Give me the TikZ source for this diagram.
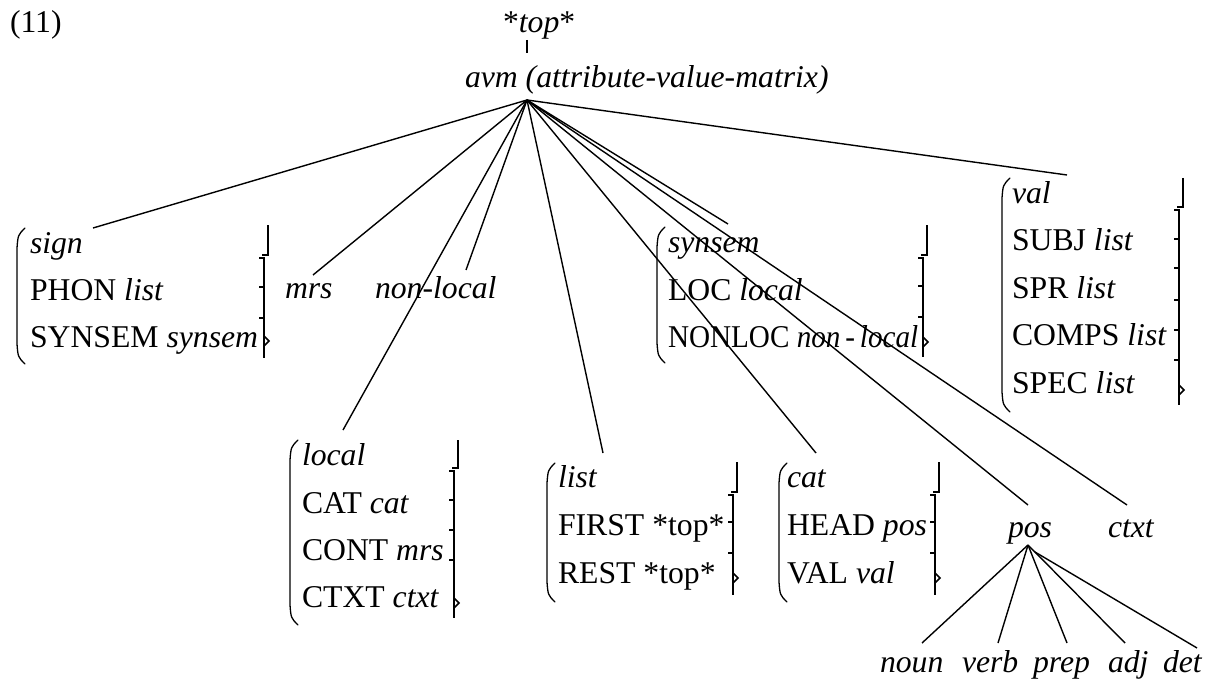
\documentclass[tikz,border=0pt]{standalone}
\usepackage{fontspec}
\setmainfont{Liberation Serif}
\tikzset{
  txt/.style={anchor=base west, inner sep=0pt, outer sep=0pt, font=\fontsize{31.7}{38}\selectfont},
  edge/.style={line width=1.4pt},
  brk/.style={line width=1.5pt},
  pbrk/.style={line width=1.3pt, line cap=round}
}
\newcommand{\myparen}[3]{%
  \draw[pbrk] (#1+8,#2) .. controls (#1+1,#2+7) .. (#1,#2+20) -- (#1,#3-20) .. controls (#1+1,#3-7) .. (#1+8,#3);}
\newcommand{\mybrak}[6]{%
  \draw[brk] (#1,#2) -- (#1,#3) -- (#1-6,#3);
  \draw[brk] (#1-9,#3+3) -- (#1-4,#3+3) -- (#1-4,#4);
  \foreach \t in {#5} {\draw[brk] (#1-4,\t) -- (#1-9,\t);}
  \draw[brk] (#1-4,#6-5) -- (#1+1,#6) -- (#1-4,#6+5);}
\begin{document}
\begin{tikzpicture}[x=1pt,y=-1pt]
\useasboundingbox (0,0) rectangle (1214,679);
% header
\node[txt] (n11) at (10,33) {(11)};
\node[txt] (top) at (503,33) {*\textit{top}*};
\node[txt] (avm) at (465,88) {\textit{avm (attribute-value-matrix)}};
\coordinate (topfoot) at (527,40);
\coordinate (avmhead) at (527,53);
\draw[edge] (topfoot) -- (avmhead);
\coordinate (apex) at (527,100);
% sign box
\node[txt] (sign1) at (30,253) {\textit{sign}};
\node[txt] (sign2) at (30,300) {PHON \textit{list}};
\node[txt] (sign3) at (30,347) {SYNSEM \textit{synsem}};
\myparen{17}{228}{364}
\mybrak{268}{225}{255}{358}{287,318}{341}
% mrs, non-local
\node[txt] (mrs) at (285,298) {\textit{mrs}};
\node[txt] (nonlocal) at (375,298) {\textit{non-local}};
% synsem box
\node[txt] (syn1) at (668,252) {\textit{synsem}};
\node[txt] (syn2) at (668,300) {LOC \textit{local}};
\node[txt] (syn3) at (668,347) {\scalebox{0.92}[1]{NONLOC \textit{non}\,-\,\textit{local}}};
\myparen{657}{227}{363}
\mybrak{927}{225}{255}{357}{286,317}{342}
% val box
\node[txt] (val1) at (1012,203) {\textit{val}};
\node[txt] (val2) at (1012,250) {SUBJ \textit{list}};
\node[txt] (val3) at (1012,298) {SPR \textit{list}};
\node[txt] (val4) at (1012,345) {COMPS \textit{list}};
\node[txt] (val5) at (1012,393) {SPEC \textit{list}};
\myparen{1002}{178}{412}
\mybrak{1183}{178}{207}{405}{239,268,300,330,360}{390}
% local box
\node[txt] (loc1) at (302,465) {\textit{local}};
\node[txt] (loc2) at (302,513) {CAT \textit{cat}};
\node[txt] (loc3) at (302,560) {CONT \textit{mrs}};
\node[txt] (loc4) at (302,607) {CTXT \textit{ctxt}};
\myparen{290}{440}{625}
\mybrak{458}{440}{468}{618}{500,530,560}{603}
% list box
\node[txt] (list1) at (558,487) {\textit{list}};
\node[txt] (list2) at (558,535) {FIRST *top*};
\node[txt] (list3) at (558,583) {REST *top*};
\myparen{547}{463}{602}
\mybrak{737}{462}{492}{595}{522,553}{578}
% cat box
\node[txt] (cat1) at (787,487) {\textit{cat}};
\node[txt] (cat2) at (787,535) {HEAD \textit{pos}};
\node[txt] (cat3) at (787,583) {VAL \textit{val}};
\myparen{779}{463}{602}
\mybrak{939}{462}{492}{595}{522,553}{578}
% pos, ctxt
\node[txt] (pos) at (1008,537) {\textit{pos}};
\node[txt] (ctxt) at (1108,537) {\textit{ctxt}};
% bottom labels
\node[txt] (noun) at (880,672) {\textit{noun}};
\node[txt] (verb) at (962,672) {\textit{verb}};
\node[txt] (prep) at (1033,672) {\textit{prep}};
\node[txt] (adj) at (1108,672) {\textit{adj}};
\node[txt] (det) at (1163,672) {\textit{det}};
% connector ends
\coordinate (esign) at (93,228);
\coordinate (emrs) at (313,275);
\coordinate (enl) at (466,270);
\coordinate (elocal) at (343,430);
\coordinate (elist) at (603,453);
\coordinate (ecat) at (816,453);
\coordinate (esynsem) at (728,224);
\coordinate (epos) at (1028,505);
\coordinate (ectxt) at (1127,505);
\coordinate (eval) at (1067,175);
\foreach \e in {esign,emrs,enl,elocal,elist,ecat,esynsem,epos,ectxt,eval}
  {\draw[edge] (apex) -- (\e);}
% pos subtree
\coordinate (posapex) at (1028,545);
\coordinate (posapex2) at (1035,552);
\coordinate (enoun) at (922,643);
\coordinate (everb) at (998,643);
\coordinate (eprep) at (1067,643);
\coordinate (eadj) at (1125,643);
\coordinate (edet) at (1197,648);
\foreach \e in {enoun,everb,eprep,eadj}
  {\draw[edge] (posapex) -- (\e);}
\draw[edge] (posapex2) -- (edet);
\end{tikzpicture}
\end{document}
